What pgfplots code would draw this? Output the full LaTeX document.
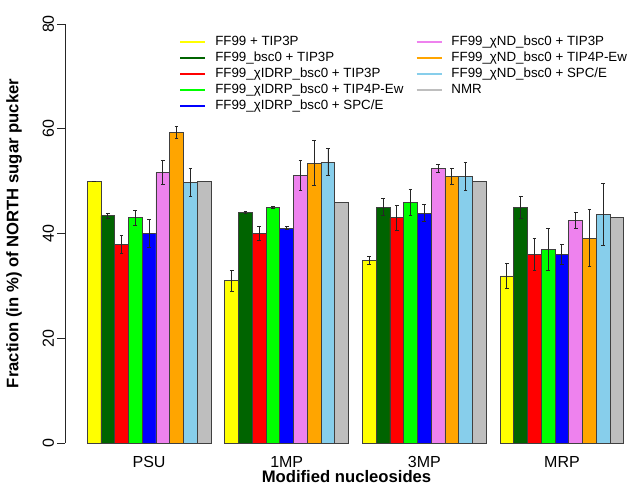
\documentclass[border=0pt]{standalone}
\usepackage{pgfplots}
\pgfplotsset{compat=1.18}
\usepackage{fontspec}
\setmainfont{Liberation Sans}
\definecolor{cyel}{RGB}{255,255,0}
\definecolor{cdg}{RGB}{0,100,0}
\definecolor{cred}{RGB}{255,0,0}
\definecolor{cgr}{RGB}{0,255,0}
\definecolor{cbl}{RGB}{0,0,255}
\definecolor{cvi}{RGB}{238,130,238}
\definecolor{cor}{RGB}{255,165,0}
\definecolor{csk}{RGB}{135,206,235}
\definecolor{cgy}{RGB}{190,190,190}
\pgfplotstableread{
x y e
0 50.0 0.0
10 31.0 2.0
20 34.9 0.8
30 31.9 2.35
}\sA
\pgfplotstableread{
x y e
1 43.4 0.5
11 44.0 0.2
21 45.0 1.65
31 45.0 2.1
}\sB
\pgfplotstableread{
x y e
2 37.9 1.65
12 40.0 1.4
22 43.0 2.35
32 36.0 3.0
}\sC
\pgfplotstableread{
x y e
3 43.0 1.4
13 45.0 0.2
23 46.0 2.5
33 37.0 4.0
}\sD
\pgfplotstableread{
x y e
4 40.0 2.6
14 41.0 0.3
24 43.9 1.56
34 36.0 1.9
}\sE
\pgfplotstableread{
x y e
5 51.6 2.26
15 51.1 2.8
25 52.4 0.7
35 42.5 1.6
}\sF
\pgfplotstableread{
x y e
6 59.3 1.2
16 53.4 4.3
26 50.9 1.5
36 39.1 5.4
}\sG
\pgfplotstableread{
x y e
7 49.8 2.7
17 53.6 2.6
27 50.9 2.7
37 43.7 5.9
}\sH
\pgfplotstableread{
x y
8 50.0
18 46.0
28 50.0
38 43.0
}\sI
\pgfplotsset{
  mybar/.style={ybar, bar width=1, bar shift=0pt, draw=black!75, line width=0.6pt, fill=#1, forget plot,
    error bars/y dir=both, error bars/y explicit,
    error bars/error bar style={black!85, line width=0.7pt},
    error bars/error mark options={rotate=90, mark size=1.4pt, black!85, line width=0.7pt}},
}
\begin{document}
\begin{tikzpicture}
\begin{axis}[
  scale only axis, width=422.25pt, height=314.25pt,
  at={(0,0)}, anchor=south west,
  xmin=-2.11, xmax=38.8, ymin=0, ymax=80,
  clip=false,
  axis x line*=bottom, axis y line*=left,
  x axis line style={draw=none},
  y axis line style={black!85, line width=0.6pt},
  xtick={4,14,24,34}, xticklabels={PSU,1MP,3MP,MRP},
  xtick style={draw=none},
  ytick={0,20,40,60,80},
  ytick style={black!85, line width=0.6pt},
  tick align=outside, major tick length=6pt,
  tick label style={font=\fontsize{12}{14}\selectfont},
  /pgf/number format/assume math mode=true,
  yticklabel style={rotate=90, anchor=south, inner sep=2pt},
  xticklabel style={anchor=center, yshift=-8pt},
  every axis y label/.style={at={(axis description cs:-0.0906,0.5)}, rotate=90, anchor=center, font=\fontsize{12.5}{14}\selectfont\bfseries},
  every axis x label/.style={at={(axis description cs:0.5,-0.0811)}, anchor=center, font=\fontsize{12.5}{14}\selectfont\bfseries},
  ylabel={Fraction (in \%) of NORTH sugar pucker},
  xlabel={Modified nucleosides},
  legend columns=2,
  legend style={draw=none, fill=none, at={(rel axis cs:0.1954,0.9833)}, anchor=north west,
    row sep=0pt,
    nodes={font=\fontsize{10}{12}\selectfont, inner ysep=1pt, text height=7.5pt, text depth=2.5pt},
    /tikz/every even column/.append style={column sep=7pt}},
  legend cell align=left,
  legend image code/.code={\draw[#1, line width=1.6pt] (0pt,0pt) -- (18.75pt,0pt); \path (24pt,0pt);},
]
\addplot[mybar=cyel] table[x=x, y=y, y error=e] {\sA};
\addplot[mybar=cdg] table[x=x, y=y, y error=e] {\sB};
\addplot[mybar=cred] table[x=x, y=y, y error=e] {\sC};
\addplot[mybar=cgr] table[x=x, y=y, y error=e] {\sD};
\addplot[mybar=cbl] table[x=x, y=y, y error=e] {\sE};
\addplot[mybar=cvi] table[x=x, y=y, y error=e] {\sF};
\addplot[mybar=cor] table[x=x, y=y, y error=e] {\sG};
\addplot[mybar=csk] table[x=x, y=y, y error=e] {\sH};
\addplot[ybar, bar width=1, bar shift=0pt, draw=black!75, line width=0.6pt, fill=cgy, forget plot] table[x=x, y=y] {\sI};
\addlegendimage{cyel}\addlegendentry{FF99 + TIP3P}
\addlegendimage{cvi}\addlegendentry{FF99\_χND\_bsc0 + TIP3P}
\addlegendimage{cdg}\addlegendentry{FF99\_bsc0 + TIP3P}
\addlegendimage{cor}\addlegendentry{FF99\_χND\_bsc0 + TIP4P-Ew}
\addlegendimage{cred}\addlegendentry{FF99\_χIDRP\_bsc0 + TIP3P}
\addlegendimage{csk}\addlegendentry{FF99\_χND\_bsc0 + SPC/E}
\addlegendimage{cgr}\addlegendentry{FF99\_χIDRP\_bsc0 + TIP4P-Ew}
\addlegendimage{cgy}\addlegendentry{NMR}
\addlegendimage{cbl}\addlegendentry{FF99\_χIDRP\_bsc0 + SPC/E}
\end{axis}
\pgfresetboundingbox
\path[use as bounding box] (-48.75pt,-37.5pt) rectangle (422.25pt,332.25pt);
\end{tikzpicture}
\end{document}
